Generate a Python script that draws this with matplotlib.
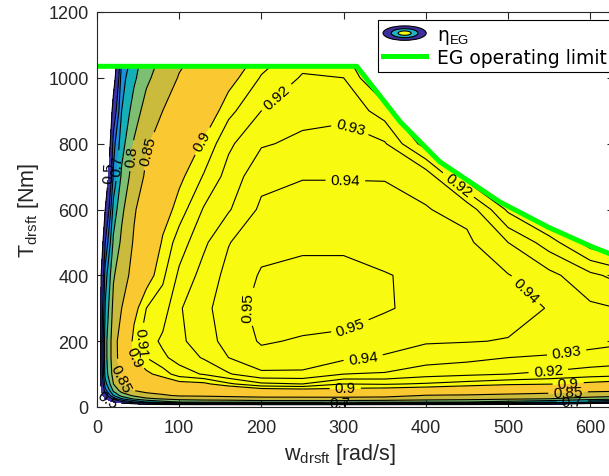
import numpy as np
import matplotlib
matplotlib.use('Agg')
import matplotlib.pyplot as plt
from matplotlib.patches import Polygon, Ellipse, Patch
from matplotlib.lines import Line2D
from matplotlib.legend_handler import HandlerBase

plt.rcParams['font.family'] = ['Liberation Sans', 'DejaVu Sans']
plt.rcParams['mathtext.fontset'] = 'custom'
plt.rcParams['mathtext.rm'] = 'Liberation Sans'
plt.rcParams['mathtext.it'] = 'Liberation Sans:italic'

# efficiency map: one list per speed, values over torque
speed = [0, 5, 10, 20, 30, 45, 60, 80, 100, 130, 160, 200, 250, 300, 350, 400, 450, 500, 550, 600, 650, 700]
torque = [0, 8, 15, 25, 35, 50, 70, 100, 150, 200, 300, 400, 500, 600, 700, 800, 900, 1000, 1040]
eta = [
    [0] * 19,
    [0, 0.15, 0.3, 0.4, 0.45, 0.5, 0.52, 0.55, 0.56, 0.56, 0.54, 0.5, 0.42, 0.33, 0.25, 0.18, 0.14, 0.1, 0.09],
    [0, 0.25, 0.4, 0.5, 0.57, 0.63, 0.68, 0.72, 0.73, 0.73, 0.705, 0.675, 0.6, 0.5, 0.4, 0.3, 0.25, 0.2, 0.18],
    [0, 0.35, 0.5, 0.62, 0.7, 0.76, 0.8, 0.82, 0.83, 0.83, 0.815, 0.795, 0.76, 0.72, 0.66, 0.63, 0.55, 0.45, 0.42],
    [0, 0.4, 0.58, 0.7, 0.77, 0.82, 0.845, 0.86, 0.87, 0.873, 0.85, 0.83, 0.81, 0.79, 0.76, 0.73, 0.70, 0.68, 0.66],
    [0, 0.45, 0.65, 0.76, 0.81, 0.85, 0.87, 0.885, 0.9, 0.905, 0.895, 0.865, 0.855, 0.845, 0.825, 0.805, 0.775, 0.74, 0.73],
    [0, 0.5, 0.7, 0.79, 0.835, 0.862, 0.88, 0.897, 0.91, 0.915, 0.91, 0.893, 0.88, 0.875, 0.857, 0.845, 0.82, 0.79, 0.78],
    [0, 0.53, 0.73, 0.805, 0.845, 0.868, 0.888, 0.905, 0.918, 0.922, 0.915, 0.908, 0.902, 0.893, 0.88, 0.87, 0.85, 0.825, 0.815],
    [0, 0.55, 0.75, 0.82, 0.855, 0.875, 0.895, 0.915, 0.924, 0.928, 0.929, 0.922, 0.915, 0.905, 0.897, 0.887, 0.875, 0.853, 0.845],
    [0, 0.56, 0.76, 0.825, 0.857, 0.878, 0.897, 0.921, 0.931, 0.935, 0.937, 0.934, 0.928, 0.921, 0.911, 0.902, 0.889, 0.874, 0.868],
    [0, 0.56, 0.76, 0.83, 0.86, 0.882, 0.908, 0.929, 0.94, 0.944, 0.946, 0.943, 0.9395, 0.929, 0.924, 0.918, 0.907, 0.895, 0.89],
    [0, 0.57, 0.77, 0.835, 0.865, 0.892, 0.918, 0.938, 0.947, 0.951, 0.953, 0.951, 0.947, 0.942, 0.937, 0.929, 0.92, 0.911, 0.907],
    [0, 0.57, 0.77, 0.835, 0.866, 0.894, 0.92, 0.938, 0.946, 0.949, 0.955, 0.953, 0.948, 0.944, 0.9395, 0.932, 0.927, 0.921, 0.918],
    [0, 0.57, 0.77, 0.835, 0.867, 0.895, 0.91, 0.93, 0.942, 0.947, 0.956, 0.953, 0.948, 0.944, 0.9395, 0.933, 0.928, 0.92, 0.917],
    [0, 0.56, 0.765, 0.832, 0.865, 0.893, 0.911, 0.929, 0.939, 0.944, 0.951, 0.9505, 0.946, 0.943, 0.9395, 0.931, 0.915, 0.895, 0.885],
    [0, 0.55, 0.755, 0.825, 0.848, 0.89, 0.909, 0.924, 0.935, 0.941, 0.947, 0.948, 0.945, 0.9405, 0.937, 0.905, 0.88, 0.86, 0.85],
    [0, 0.54, 0.75, 0.82, 0.845, 0.885, 0.906, 0.922, 0.933, 0.9405, 0.945, 0.9455, 0.942, 0.937, 0.905, 0.88, 0.86, 0.84, 0.835],
    [0, 0.52, 0.73, 0.81, 0.84, 0.875, 0.903, 0.92, 0.93, 0.9395, 0.944, 0.9405, 0.93, 0.908, 0.885, 0.865, 0.85, 0.835, 0.83],
    [0, 0.5, 0.71, 0.8, 0.835, 0.868, 0.901, 0.918, 0.929, 0.935, 0.9395, 0.933, 0.915, 0.89, 0.87, 0.85, 0.835, 0.82, 0.815],
    [0, 0.4, 0.66, 0.78, 0.82, 0.86, 0.897, 0.915, 0.927, 0.933, 0.932, 0.9225, 0.895, 0.87, 0.85, 0.835, 0.82, 0.805, 0.8],
    [0, 0.35, 0.62, 0.76, 0.81, 0.855, 0.893, 0.913, 0.925, 0.931, 0.929, 0.914, 0.885, 0.86, 0.84, 0.825, 0.81, 0.795, 0.79],
    [0, 0.3, 0.58, 0.74, 0.80, 0.85, 0.89, 0.91, 0.922, 0.928, 0.925, 0.905, 0.875, 0.85, 0.83, 0.815, 0.8, 0.785, 0.78],
]

# operating limit (max torque vs speed)
lim_speed = [0, 316, 369, 417, 490, 550, 603, 650, 700]
lim_torque = [1035, 1035, 866, 745, 623, 545, 486, 440, 400]

fill_levels = [0.5, 0.6, 0.65, 0.7, 0.75, 0.8, 0.85, 0.9, 1.0]
fill_colors = ['#3d32a6', '#2e62e4', '#1b8fd9', '#15afba', '#7dbf72',
               '#cbbb3c', '#fac831', '#f8fa10']
line_levels = [0.5, 0.6, 0.65, 0.7, 0.75, 0.8, 0.85, 0.9, 0.91, 0.92, 0.93, 0.94, 0.95]

# where the contour labels sit (speed, torque)
label_spots = {
    0.5: [(12, 714), (13, 24)],
    0.7: [(26, 733), (578, 18), (296, 21)],
    0.8: [(44, 763)],
    0.85: [(67, 775), (26, 85), (573, 46)],
    0.9: [(128, 808), (43, 152), (573, 79), (302, 58)],
    0.91: [(56, 200)],
    0.92: [(220, 936), (436, 663), (549, 109)],
    0.93: [(308, 851), (572, 152)],
    0.94: [(302, 678), (523, 359), (324, 146)],
    0.95: [(180, 307), (304, 267)],
}

W, T = np.meshgrid(speed, torque)
Z = np.array(eta).T

fig = plt.figure(figsize=(6.09, 4.77), dpi=100)
ax = fig.add_axes([97 / 609, 69 / 477, 516.5 / 609, 395 / 477])
ax.set_xlim(0, 628.3)
ax.set_ylim(0, 1200)

clip = Polygon(list(zip(lim_speed, lim_torque)) + [(700, 0), (0, 0)],
               closed=True, transform=ax.transData)

cf = ax.contourf(W, T, Z, levels=fill_levels, colors=fill_colors)
cf.set_clip_path(clip)

# one contour set per level so each gets its own labels
for lev in line_levels:
    cl = ax.contour(W, T, Z, levels=[lev], colors='k', linewidths=0.8)
    cl.set_clip_path(clip)
    if lev in label_spots:
        cl.clabel(manual=label_spots[lev], inline=True, fontsize=11, fmt='%g')

ax.plot(lim_speed, lim_torque, color='#00ff00', lw=3.6, solid_capstyle='butt')

ax.set_xlim(0, 628.3)
ax.set_ylim(0, 1200)
ax.set_xticks(range(0, 700, 100))
ax.set_yticks(range(0, 1400, 200))
ax.tick_params(direction='in', top=True, right=True, length=5, width=0.8,
               colors='#262626', labelsize=13)
ax.tick_params(axis='x', pad=9)
ax.tick_params(axis='y', pad=6)
for s in ax.spines.values():
    s.set_color('#262626')
    s.set_linewidth(0.8)

ax.set_xlabel(r'w$_{\mathrm{drsft}}$ [rad/s]', fontsize=15.5, color='#262626', labelpad=2)
ax.set_ylabel(r'T$_{\mathrm{drsft}}$ [Nm]', fontsize=15.5, color='#262626', labelpad=5)
ax.xaxis.set_label_coords(0.47, -0.085)


class ContourIcon(HandlerBase):
    def create_artists(self, legend, orig_handle, xdescent, ydescent,
                       width, height, fontsize, trans):
        cx = -xdescent + width / 2
        cy = -ydescent + height / 2
        out = []
        for f, c in [(1.0, '#3d2f9c'), (0.62, '#1fb3c2'), (0.3, '#f8fa10')]:
            e = Ellipse((cx, cy), width * f, height * 1.1 * f, facecolor=c,
                        edgecolor='k', lw=0.8, transform=trans)
            out.append(e)
        return out


icon = Patch()
limit_line = Line2D([], [], color='#00ff00', lw=3.6)
leg = ax.legend([icon, limit_line], [r'η$_{\mathrm{EG}}$', 'EG operating limit'],
                handler_map={icon: ContourIcon()},
                loc='upper right', bbox_to_anchor=(612 / 609, 1 - 21 / 477),
                bbox_transform=fig.transFigure, borderaxespad=0,
                prop={'family': 'DejaVu Sans', 'size': 13.5},
                handlelength=2.3, handletextpad=0.6, labelspacing=0.12,
                borderpad=0.25, fancybox=False, framealpha=1, edgecolor='k')
leg.get_frame().set_linewidth(0.8)

fig.savefig('out.png', dpi=100)
